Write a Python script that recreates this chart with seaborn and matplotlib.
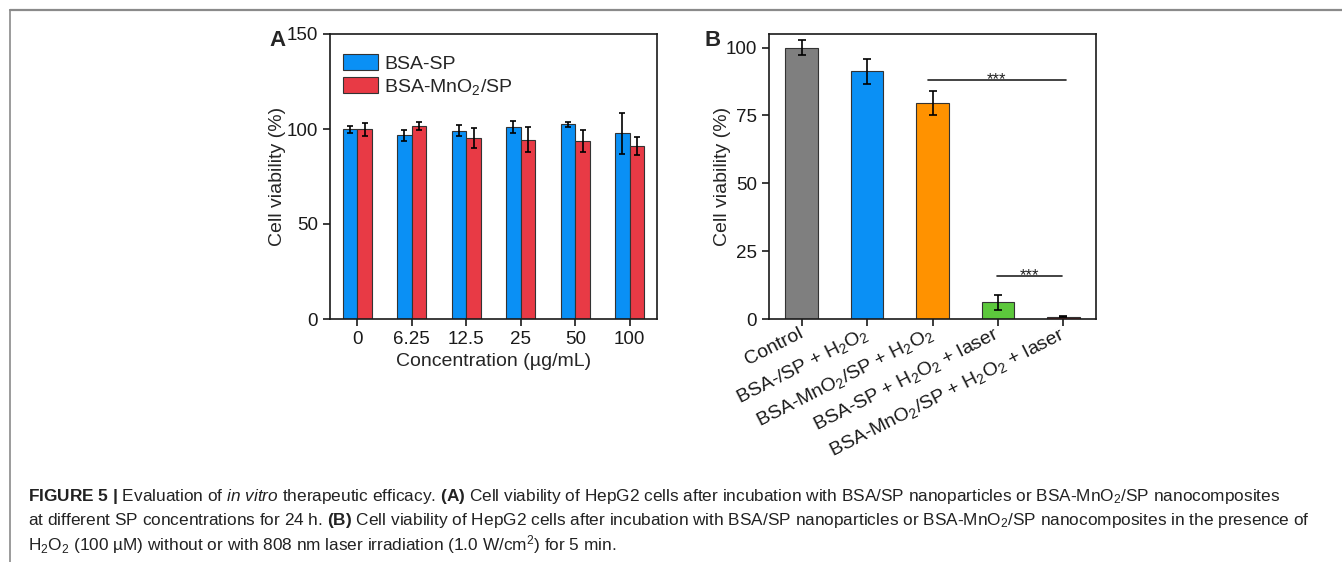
import numpy as np
import pandas as pd
import matplotlib
matplotlib.use("Agg")
import matplotlib.pyplot as plt
from matplotlib.lines import Line2D
import seaborn as sns

# ---------------- data ----------------
conc_labels = ["0", "6.25", "12.5", "25", "50", "100"]
series_names = ["BSA-SP", "BSA-MnO$_2$/SP"]
bsa_sp_mean = [99.8, 96.7, 99.1, 100.9, 102.6, 97.7]
bsa_sp_err = [1.8, 2.8, 2.8, 3.2, 1.3, 10.6]
bsa_mn_mean = [99.8, 101.6, 95.3, 94.4, 93.5, 91.1]
bsa_mn_err = [3.5, 2.1, 5.1, 6.7, 5.8, 4.6]

groups_b = ["Control", "BSA-/SP + H$_2$O$_2$", "BSA-MnO$_2$/SP + H$_2$O$_2$",
            "BSA-SP + H$_2$O$_2$ + laser", "BSA-MnO$_2$/SP + H$_2$O$_2$ + laser"]
viab_b = [100.0, 91.2, 79.5, 6.1, 0.9]
err_b = [2.8, 4.6, 4.4, 2.6, 0.2]
colors_b = ["#7f7f7f", "#0a90f5", "#ff9200", "#5cc83c", "#d92b2b"]
sig_marks = [("***", 1.93, 4.04, 88.0), ("***", 2.99, 3.98, 15.8)]

colors_a = ["#0a90f5", "#e83a45"]

# ---------------- style ----------------
sns.set_theme(style="ticks")
plt.rcParams["font.family"] = ["Liberation Sans", "DejaVu Sans"]
plt.rcParams["mathtext.fontset"] = "custom"
plt.rcParams["mathtext.rm"] = "Liberation Sans"
plt.rcParams["mathtext.it"] = "Liberation Sans:italic"
plt.rcParams["mathtext.bf"] = "Liberation Sans:bold"
plt.rcParams["axes.linewidth"] = 1.2
plt.rcParams["axes.edgecolor"] = "#1a1a1a"

W, H = 1342, 562
fig = plt.figure(figsize=(W / 100, H / 100), dpi=100)
fig.patch.set_facecolor("white")

def px_axes(l, t, r, b):
    return fig.add_axes([l / W, 1 - b / H, (r - l) / W, (b - t) / H])

TICK_FS = 13.5
LABEL_FS = 14

# ---------------- panel A ----------------
axA = px_axes(330, 34, 657, 319)
dfA = pd.DataFrame({
    "conc": conc_labels * 2,
    "series": [series_names[0]] * len(conc_labels) + [series_names[1]] * len(conc_labels),
    "val": bsa_sp_mean + bsa_mn_mean,
})
sns.barplot(data=dfA, x="conc", y="val", hue="series", palette=colors_a,
            width=0.54, errorbar=None, edgecolor="#333333", linewidth=0.8,
            saturation=1, ax=axA)
errsA = bsa_sp_err + bsa_mn_err
for patch, e in zip(axA.patches[:len(errsA)], errsA):
    xc = patch.get_x() + patch.get_width() / 2
    axA.errorbar(xc, patch.get_height(), yerr=e, color="black", lw=1.2,
                 capsize=2.4, capthick=1.2, fmt="none", zorder=5)
axA.set_ylim(0, 150)
axA.set_xlim(-0.5, 5.5)
axA.set_yticks([0, 50, 100, 150])
axA.set_xlabel("Concentration (µg/mL)", fontsize=LABEL_FS)
axA.set_ylabel("Cell viability (%)", fontsize=LABEL_FS)
axA.xaxis.set_label_coords(0.5, -0.118)
axA.yaxis.set_label_coords(-0.135, 0.5)
axA.tick_params(axis="both", labelsize=TICK_FS, length=5, width=1.2, direction="out",
                colors="#1a1a1a", pad=3.5)
leg = axA.legend(loc="upper left", frameon=False, fontsize=LABEL_FS,
                 handlelength=1.8, handleheight=0.93, handletextpad=0.3,
                 labelspacing=0.2, borderaxespad=0, borderpad=0,
                 bbox_to_anchor=(0.04, 0.93))
for hdl in leg.legend_handles:
    hdl.set_edgecolor("#333333")
for sp in axA.spines.values():
    sp.set_visible(True)
fig.text(269 / W, 1 - 46 / H, "A", fontsize=16, fontweight="bold", ha="left", va="baseline")

# ---------------- panel B ----------------
axB = px_axes(769, 34, 1096, 319)
dfB = pd.DataFrame({"group": groups_b, "val": viab_b})
sns.barplot(data=dfB, x="group", y="val", hue="group", palette=colors_b,
            width=0.5, errorbar=None, edgecolor="#333333", linewidth=0.8,
            saturation=1, legend=False, ax=axB)
for patch, e in zip(axB.patches[:len(err_b)], err_b):
    xc = patch.get_x() + patch.get_width() / 2
    axB.errorbar(xc, patch.get_height(), yerr=e, color="black", lw=1.2,
                 capsize=2.6, capthick=1.2, fmt="none", zorder=5)
axB.set_ylim(0, 105)
axB.set_xlim(-0.5, 4.5)
axB.set_yticks([0, 25, 50, 75, 100])
axB.set_xlabel("")
axB.set_ylabel("Cell viability (%)", fontsize=LABEL_FS)
axB.yaxis.set_label_coords(-0.116, 0.5)
axB.tick_params(axis="both", labelsize=TICK_FS, length=5, width=1.2, direction="out",
                colors="#1a1a1a", pad=3.5)
axB.tick_params(axis="x", labelsize=14, pad=5)
plt.setp(axB.get_xticklabels(), rotation=27, ha="right", va="center", rotation_mode="anchor")
for sp in axB.spines.values():
    sp.set_visible(True)
for s, x0, x1, yv in sig_marks:
    axB.plot([x0, x1], [yv, yv], color="#222222", lw=1.2)
    axB.text((x0 + x1) / 2, yv - 1.3, s, ha="center", va="baseline", fontsize=12, color="#222222")
fig.text(705 / W, 1 - 46 / H, "B", fontsize=16, fontweight="bold", ha="left", va="baseline")

# ---------------- frame lines ----------------
fig.add_artist(Line2D([9.5 / W, 1], [1 - 10 / H] * 2, transform=fig.transFigure,
                      color="#8a8a8a", lw=1.6))
fig.add_artist(Line2D([9.5 / W] * 2, [0, 1 - 10 / H], transform=fig.transFigure,
                      color="#8a8a8a", lw=1.2))

# ---------------- caption ----------------
cap_lines = [
    r"$\mathbf{FIGURE\ 5\ |}$ Evaluation of $\mathit{in\ vitro}$ therapeutic efficacy. $\mathbf{(A)}$ Cell viability of HepG2 cells after incubation with BSA/SP nanoparticles or BSA-MnO$_2$/SP nanocomposites",
    r"at different SP concentrations for 24 h. $\mathbf{(B)}$ Cell viability of HepG2 cells after incubation with BSA/SP nanoparticles or BSA-MnO$_2$/SP nanocomposites in the presence of",
    r"H$_2$O$_2$ (100 µM) without or with 808 nm laser irradiation (1.0 W/cm$^2$) for 5 min.",
]
cap_y = [496, 521, 545]
for txt, yy in zip(cap_lines, cap_y):
    fig.text(28 / W, 1 - yy / H, txt, fontsize=12.4, ha="left", va="center", color="#222222")

fig.savefig("out.png", dpi=100, facecolor="white")
